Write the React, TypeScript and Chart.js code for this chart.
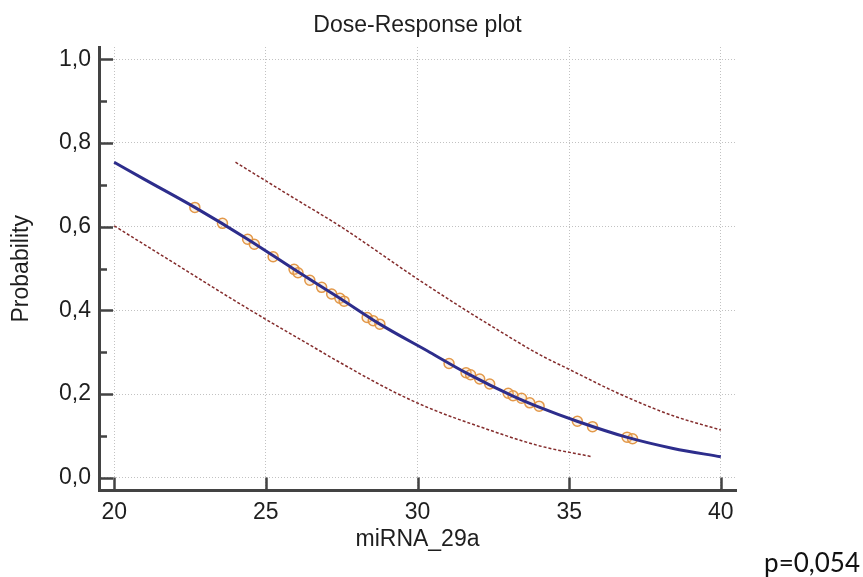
import React, { useEffect, useRef } from 'react';
import { Chart, registerables } from 'chart.js';

Chart.register(...registerables);

// ---- Data ----
const fitX = [20, 21, 22.66, 24.4, 25.93, 27.44, 28.76, 30.4, 31.62, 33.15, 34.03, 35.26, 36.89, 38.43, 40];
const fitY = [0.754, 0.713, 0.646, 0.57, 0.498, 0.429, 0.367, 0.3, 0.25, 0.195, 0.168, 0.135, 0.097, 0.07, 0.05];

const upperX = [24.0, 26.0, 27.45, 30.02, 31.6, 32.38, 34.03, 35.0, 36.67, 38.43, 40];
const upperY = [0.754, 0.665, 0.601, 0.474, 0.4, 0.365, 0.294, 0.259, 0.2, 0.148, 0.114];

const lowerX = [20, 22, 24, 25.79, 29.09, 30.4, 32.05, 34.03, 35.77];
const lowerY = [0.602, 0.512, 0.422, 0.345, 0.21, 0.166, 0.122, 0.076, 0.05];

const obsX = [22.66, 23.57, 24.4, 24.62, 25.24, 25.93, 26.06, 26.45, 26.84, 27.17, 27.44, 27.58, 28.34, 28.54, 28.76, 31.04, 31.6, 31.75, 32.05, 32.38, 32.99, 33.15, 33.43, 33.7, 34.01, 35.27, 35.77, 36.91, 37.09];
const obsY = [0.646, 0.608, 0.57, 0.558, 0.528, 0.498, 0.49, 0.472, 0.455, 0.439, 0.429, 0.422, 0.383, 0.375, 0.367, 0.273, 0.251, 0.246, 0.236, 0.224, 0.202, 0.196, 0.19, 0.179, 0.171, 0.135, 0.122, 0.097, 0.093];

const xTicks = [20, 25, 30, 35, 40];
const yMajorTicks = [0, 0.2, 0.4, 0.6, 0.8, 1.0];
const yMinorTicks = [0.1, 0.3, 0.5, 0.7, 0.9];

const TITLE = 'Dose-Response plot';
const X_TITLE = 'miRNA_29a';
const Y_TITLE = 'Probability';
const P_TEXT = 'p=0,054';

// ---- Styles ----
const FONT = 'Liberation Sans, Arial, sans-serif';
const TEXT = '#1e1e1e';
const AXIS = '#434343';
const GRID = '#c2c2c2';

const toPts = (xs: number[], ys: number[]) => xs.map((x, i) => ({ x, y: ys[i] }));

const inwardTicks = {
  id: 'inwardTicks',
  afterDatasetsDraw(chart: any) {
    const { ctx, chartArea, scales } = chart;
    const xs = scales.x;
    const ys = scales.y;
    ctx.save();
    ctx.strokeStyle = AXIS;
    ctx.lineWidth = 2.5;
    ctx.beginPath();
    yMajorTicks.forEach((v) => {
      const py = Math.round(ys.getPixelForValue(v)) + 0.5;
      ctx.moveTo(chartArea.left, py);
      ctx.lineTo(chartArea.left + 14, py);
    });
    yMinorTicks.forEach((v) => {
      const py = Math.round(ys.getPixelForValue(v)) + 0.5;
      ctx.moveTo(chartArea.left, py);
      ctx.lineTo(chartArea.left + 8, py);
    });
    xTicks.forEach((v) => {
      const px = Math.round(xs.getPixelForValue(v)) + 0.5;
      ctx.moveTo(px, chartArea.bottom);
      ctx.lineTo(px, chartArea.bottom - 13);
    });
    ctx.stroke();
    ctx.restore();
  },
};

export default function App() {
  const ref = useRef<HTMLCanvasElement>(null);

  useEffect(() => {
    const chart = new Chart(ref.current as HTMLCanvasElement, {
      type: 'scatter',
      data: {
        datasets: [
          {
            label: 'Fit',
            data: toPts(fitX, fitY),
            showLine: true,
            borderColor: '#2d2d8c',
            borderWidth: 3,
            pointRadius: 0,
            cubicInterpolationMode: 'monotone',
          },
          {
            label: 'Upper',
            data: toPts(upperX, upperY),
            showLine: true,
            borderColor: '#842c2c',
            borderWidth: 1.5,
            borderDash: [3, 2],
            pointRadius: 0,
            cubicInterpolationMode: 'monotone',
          },
          {
            label: 'Lower',
            data: toPts(lowerX, lowerY),
            showLine: true,
            borderColor: '#842c2c',
            borderWidth: 1.5,
            borderDash: [3, 2],
            pointRadius: 0,
            cubicInterpolationMode: 'monotone',
          },
          {
            label: 'Observed',
            data: toPts(obsX, obsY),
            showLine: false,
            pointRadius: 5,
            pointBorderWidth: 1.5,
            pointBorderColor: 'rgba(226,148,64,0.95)',
            pointBackgroundColor: 'rgba(240,200,150,0.25)',
          },
        ],
      },
      options: {
        animation: false,
        responsive: false,
        events: [],
        layout: { padding: { top: 0, left: 0, right: 3, bottom: 0 } },
        plugins: {
          legend: { display: false },
          tooltip: { enabled: false },
          title: { display: false },
          subtitle: {
            display: true,
            text: P_TEXT,
            position: 'bottom',
            align: 'end',
            color: '#111111',
            font: { family: 'Lato, Open Sans, sans-serif', size: 26, weight: 'normal', lineHeight: 1.0 },
            padding: 0,
          },
        },
        scales: {
          x: {
            type: 'linear',
            position: 'bottom',
            min: 19.5,
            max: 40.5,
            afterBuildTicks: (s: any) => {
              s.ticks = xTicks.map((v) => ({ value: v }));
            },
            afterFit: (s: any) => {
              s.height = 60.4;
            },
            grid: { color: GRID, lineWidth: 1, drawTicks: false },
            border: { display: true, color: AXIS, width: 3, dash: [1, 2] },
            ticks: {
              color: TEXT,
              font: { family: FONT, size: 23 },
              padding: 8,
              maxRotation: 0,
              autoSkip: false,
            },
            title: {
              display: true,
              text: X_TITLE,
              color: TEXT,
              font: { family: FONT, size: 23, lineHeight: 1 },
              padding: 0,
            },
          },
          y: {
            type: 'linear',
            position: 'left',
            min: -0.0308,
            max: 1.0294,
            afterBuildTicks: (s: any) => {
              s.ticks = yMajorTicks.map((v) => ({ value: v }));
            },
            afterFit: (s: any) => {
              s.width = 99;
            },
            grid: { color: GRID, lineWidth: 1, drawTicks: false },
            border: { display: true, color: AXIS, width: 3, dash: [1, 2] },
            ticks: {
              color: TEXT,
              font: { family: FONT, size: 23 },
              padding: 8,
              callback: (v: any) => Number(v).toFixed(1).replace('.', ','),
            },
            title: {
              display: true,
              text: Y_TITLE,
              color: TEXT,
              font: { family: FONT, size: 23 },
              padding: { top: 8, bottom: 0 },
            },
          },
          xTop: {
            type: 'linear',
            position: 'top',
            min: 19.5,
            max: 40.5,
            afterFit: (s: any) => {
              s.height = 47;
            },
            grid: { display: false, drawTicks: false },
            border: { display: false },
            ticks: { display: false },
            title: {
              display: true,
              text: TITLE,
              color: TEXT,
              font: { family: FONT, size: 23 },
              padding: { top: 12, bottom: 0 },
            },
          },
          yRight: {
            type: 'linear',
            position: 'right',
            afterFit: (s: any) => {
              s.width = 124;
            },
            grid: { display: false, drawTicks: false },
            border: { display: false },
            ticks: { display: false },
          },
        },
      } as any,
      plugins: [inwardTicks],
    });
    return () => chart.destroy();
  }, []);

  return (
    <div style={{ position: 'absolute', left: 0, top: 0, width: 863, height: 577, background: '#ffffff' }}>
      <canvas ref={ref} width={863} height={577} style={{ width: 863, height: 577, display: 'block' }} />
    </div>
  );
}
